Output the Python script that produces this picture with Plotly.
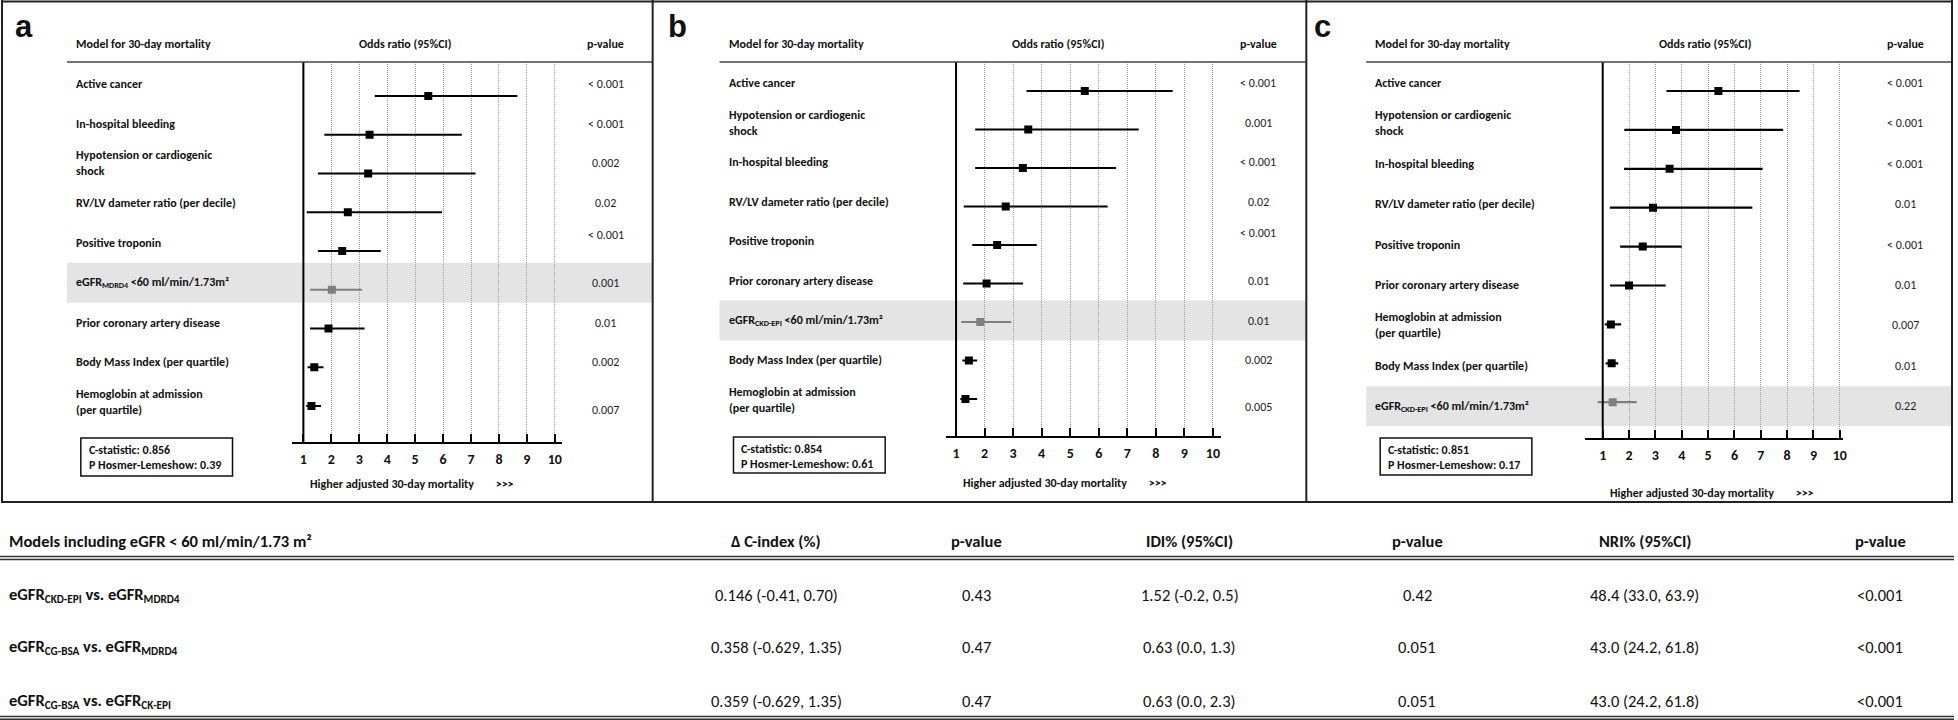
import plotly.graph_objects as go

W, H = 1958, 720


def sub(s):
    return '<span style="font-size:0.68em;baseline-shift:-0.3em">' + s + '</span>'


# ------------------------------------------------------------------ data
labels_a = ["Active cancer", "In-hospital bleeding", "Hypotension or cardiogenic<br>shock",
            "RV/LV dameter ratio (per decile)", "Positive troponin",
            "eGFR" + sub("MDRD4") + " <60 ml/min/1.73m²", "Prior coronary artery disease",
            "Body Mass Index (per quartile)", "Hemoglobin at admission<br>(per quartile)"]
or_a = [5.47, 3.37, 3.32, 2.59, 2.39, 2.02, 1.90, 1.39, 1.29]
lo_a = [3.55, 1.75, 1.52, 1.12, 1.52, 1.24, 1.24, 1.15, 1.10]
hi_a = [8.66, 6.67, 7.16, 5.96, 3.77, 3.10, 3.19, 1.72, 1.63]
p_a = ["< 0.001", "< 0.001", "0.002", "0.02", "< 0.001", "0.001", "0.01", "0.002", "0.007"]
highlight_a = 5

labels_b = ["Active cancer", "Hypotension or cardiogenic<br>shock", "In-hospital bleeding",
            "RV/LV dameter ratio (per decile)", "Positive troponin", "Prior coronary artery disease",
            "eGFR" + sub("CKD-EPI") + " <60 ml/min/1.73m²",
            "Body Mass Index (per quartile)", "Hemoglobin at admission<br>(per quartile)"]
or_b = [5.51, 3.53, 3.34, 2.74, 2.44, 2.07, 1.85, 1.45, 1.33]
lo_b = [3.47, 1.67, 1.67, 1.27, 1.57, 1.25, 1.18, 1.22, 1.15]
hi_b = [8.59, 7.40, 6.61, 6.31, 3.83, 3.35, 2.93, 1.74, 1.74]
p_b = ["< 0.001", "0.001", "< 0.001", "0.02", "< 0.001", "0.01", "0.01", "0.002", "0.005"]
highlight_b = 6

labels_c = ["Active cancer", "Hypotension or cardiogenic<br>shock", "In-hospital bleeding",
            "RV/LV dameter ratio (per decile)", "Positive troponin", "Prior coronary artery disease",
            "Hemoglobin at admission<br>(per quartile)", "Body Mass Index (per quartile)",
            "eGFR" + sub("CKD-EPI") + " <60 ml/min/1.73m²"]
or_c = [5.39, 3.78, 3.54, 2.91, 2.52, 2.00, 1.31, 1.34, 1.38]
lo_c = [3.42, 1.82, 1.81, 1.27, 1.66, 1.28, 1.08, 1.11, 0.81]
hi_c = [8.47, 7.85, 7.07, 6.68, 4.00, 3.39, 1.70, 1.59, 2.29]
p_c = ["< 0.001", "< 0.001", "< 0.001", "0.01", "< 0.001", "0.01", "0.007", "0.01", "0.22"]
highlight_c = 8

c_statistic = ["0.856", "0.854", "0.851"]
hosmer_lemeshow = ["0.39", "0.61", "0.17"]
panel_letters = ["a", "b", "c"]
x_ticks = [1, 2, 3, 4, 5, 6, 7, 8, 9, 10]

table_header = ["Models including eGFR < 60 ml/min/1.73 m²", "Δ C-index (%)", "p-value",
                "IDI% (95%CI)", "p-value", "NRI% (95%CI)", "p-value"]
comparisons = ["eGFR" + sub("CKD-EPI") + " vs. eGFR" + sub("MDRD4"),
               "eGFR" + sub("CG-BSA") + " vs. eGFR" + sub("MDRD4"),
               "eGFR" + sub("CG-BSA") + " vs. eGFR" + sub("CK-EPI")]
delta_c = ["0.146 (-0.41, 0.70)", "0.358 (-0.629, 1.35)", "0.359 (-0.629, 1.35)"]
p_delta = ["0.43", "0.47", "0.47"]
idi = ["1.52 (-0.2, 0.5)", "0.63 (0.0, 1.3)", "0.63 (0.0, 2.3)"]
p_idi = ["0.42", "0.051", "0.051"]
nri = ["48.4 (33.0, 63.9)", "43.0 (24.2, 61.8)", "43.0 (24.2, 61.8)"]
p_nri = ["<0.001", "<0.001", "<0.001"]

# ------------------------------------------------------------------ layout helpers
FONT = "Carlito, Lato, sans-serif"
LBL = 12          # forest-plot text size
TBL = 16.5        # table text size


def px(x):
    return x / W


def py(y):
    return 1 - y / H


annotations = []
shapes = []


def text(t, x, y, anchor="left", size=LBL, bold=True, color="#111", family=FONT):
    annotations.append(dict(text=t, x=px(x), y=py(y), xref="paper", yref="paper",
                            xanchor=anchor, yanchor="middle", showarrow=False, align="left",
                            borderpad=0,
                            font=dict(family=family, size=size, color=color,
                                      weight=700 if bold else 400)))


def hline(x0, x1, y, color="#333", width=1.5):
    shapes.append(dict(type="line", xref="paper", yref="paper", x0=px(x0), x1=px(x1),
                       y0=py(y), y1=py(y), line=dict(color=color, width=width)))


def vline(x, y0, y1, color="#222", width=2):
    shapes.append(dict(type="line", xref="paper", yref="paper", x0=px(x), x1=px(x),
                       y0=py(y0), y1=py(y1), line=dict(color=color, width=width)))


panels = [
    dict(labels=labels_a, orv=or_a, lo=lo_a, hi=hi_a, p=p_a, hl=highlight_a,
         dx=0, right=654, xpx=(293, 563), one=304, unit=28.0, axis_y=442,
         m0=96, msp=38.75, l0=84, lsp=39.75, poff={4: -8, 8: 8},
         box=(438, 476), higher_y=484),
    dict(labels=labels_b, orv=or_b, lo=lo_b, hi=hi_b, p=p_b, hl=highlight_b,
         dx=654, right=1309, xpx=(948, 1223), one=958, unit=28.6, axis_y=436,
         m0=91, msp=38.5, l0=83, lsp=39.6, poff={4: -8, 8: 7},
         box=(437, 473), higher_y=483),
    dict(labels=labels_c, orv=or_c, lo=lo_c, hi=hi_c, p=p_c, hl=highlight_c,
         dx=1302, right=1956, xpx=(1588, 1847), one=1606, unit=26.4, axis_y=438,
         m0=91, msp=38.9, l0=83, lsp=40.4, poff={},
         box=(438, 475), higher_y=493),
]

fig = go.Figure()
HEADER_LINE_Y = 62

for k, pn in enumerate(panels):
    sfx = "" if k == 0 else str(k + 1)
    xa, ya = "x" + sfx, "y" + sfx
    dx = pn["dx"]
    n = len(pn["labels"])
    idx = list(range(n))
    black = [i for i in idx if i != pn["hl"]]
    for rows, col in ((black, "black"), ([pn["hl"]], "#7f7f7f")):
        fig.add_trace(go.Scatter(
            x=[pn["orv"][i] for i in rows], y=rows, xaxis=xa, yaxis=ya,
            mode="markers", showlegend=False, hoverinfo="skip",
            marker=dict(symbol="square", size=8, color=col),
            error_x=dict(type="data", symmetric=False,
                         array=[pn["hi"][i] - pn["orv"][i] for i in rows],
                         arrayminus=[pn["orv"][i] - pn["lo"][i] for i in rows],
                         color=col, thickness=2.2, width=0)))

    x0p, x1p = pn["xpx"]
    xr = [1 + (x0p - pn["one"]) / pn["unit"], 1 + (x1p - pn["one"]) / pn["unit"]]
    yr = [(pn["axis_y"] - pn["m0"]) / pn["msp"], (HEADER_LINE_Y - pn["m0"]) / pn["msp"]]
    fig.update_layout(**{
        "xaxis" + sfx: dict(domain=[px(x0p), px(x1p)], range=xr, anchor=ya,
                            tickvals=x_ticks, ticktext=[str(t) for t in x_ticks],
                            ticks="inside", ticklen=8, tickwidth=1.5, tickcolor="black",
                            showline=True, linewidth=2, linecolor="black",
                            showgrid=True, gridcolor="#9c9c9c", griddash="1px,1px", gridwidth=1,
                            zeroline=False, ticklabelstandoff=3,
                            tickfont=dict(family=FONT, size=14, color="#111", weight=700),
                            fixedrange=True),
        "yaxis" + sfx: dict(domain=[py(pn["axis_y"]), py(HEADER_LINE_Y)], range=yr, anchor=xa,
                            visible=False, showgrid=False, zeroline=False, fixedrange=True),
    })
    # vertical reference line at OR = 1
    shapes.append(dict(type="line", xref=xa, yref="paper", x0=1, x1=1,
                       y0=py(pn["axis_y"]), y1=py(HEADER_LINE_Y),
                       line=dict(color="black", width=2)))
    # highlighted row band
    band_c = pn["l0"] + pn["hl"] * pn["lsp"]
    shapes.append(dict(type="rect", xref="paper", yref="paper", layer="below",
                       x0=px(67 + dx), x1=px(pn["right"]), y0=py(band_c + 20), y1=py(band_c - 20),
                       fillcolor="#e4e4e4", line=dict(width=0)))
    # headers
    text(panel_letters[k], 14 + dx, 27, size=31, family="Liberation Sans, Arial, sans-serif")
    text("Model for 30-day mortality", 75 + dx, 44)
    text("Odds ratio (95%CI)", 406 + dx, 44, anchor="center")
    text("p-value", 607 + dx, 44, anchor="center")
    hline(67 + dx, pn["right"], HEADER_LINE_Y, color="#444", width=1.5)
    # row labels & p values
    for i in idx:
        ly = pn["l0"] + i * pn["lsp"]
        text(pn["labels"][i], 75 + dx, ly)
        text(pn["p"][i], 607 + dx, ly + pn["poff"].get(i, 0), anchor="center", bold=False,
             color="#222")
    # statistics box
    bt, bb = pn["box"]
    shapes.append(dict(type="rect", xref="paper", yref="paper", x0=px(81 + dx), x1=px(233 + dx),
                       y0=py(bb), y1=py(bt), line=dict(color="#111", width=1.5)))
    text("C-statistic: " + c_statistic[k], 88 + dx, bt + 12)
    text("P Hosmer-Lemeshow: " + hosmer_lemeshow[k], 88 + dx, bt + 27)
    text("Higher adjusted 30-day mortality" + "&nbsp;" * 8 + "&gt;&gt;&gt;", 310 + dx,
         pn["higher_y"])

# panel frame
hline(1, 1957, 1.5, color="#222", width=2)
hline(1, 1957, 502, color="#222", width=2)
for xv in (2, 654, 1309, 1956):
    vline(xv, 0, 502)

# ------------------------------------------------------------------ table
col_x = [8, 778, 978, 1192, 1420, 1648, 1884]
text(table_header[0], col_x[0], 541, size=TBL)
for j in range(1, len(table_header)):
    text(table_header[j], col_x[j], 541, anchor="center", size=TBL)
hline(0, 1958, 556.5, color="#333", width=1.4)
hline(0, 1958, 559.5, color="#333", width=1.4)
row_y = [595, 647, 701]
for i in range(len(comparisons)):
    text(comparisons[i], col_x[0], row_y[i], size=TBL)
    vals = [delta_c[i], p_delta[i], idi[i], p_idi[i], nri[i], p_nri[i]]
    for j, v in enumerate(vals):
        text(v, col_x[j + 1], row_y[i], anchor="center", size=TBL, bold=False, color="#111")
hline(0, 1958, 716.5, color="#333", width=1.4)
hline(0, 1958, 719.3, color="#333", width=1.4)

fig.update_layout(width=W, height=H, margin=dict(l=0, r=0, t=0, b=0),
                  paper_bgcolor="white", plot_bgcolor="rgba(0,0,0,0)",
                  annotations=annotations, shapes=shapes, showlegend=False)
fig.write_html("out.html", post_script="document.body.style.margin='0';",
               config={"displayModeBar": False})
